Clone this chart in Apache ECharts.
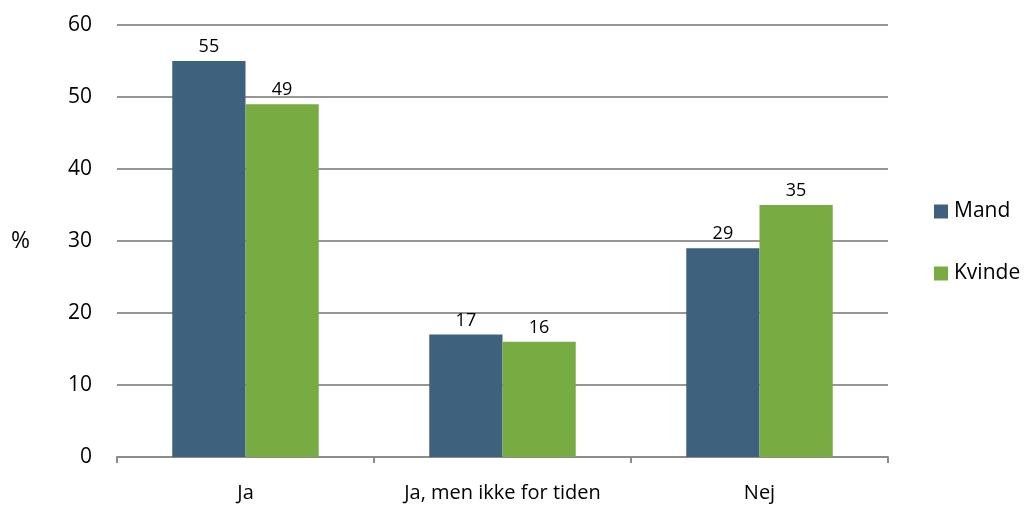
<!DOCTYPE html>
<html><head><meta charset="utf-8">
<script src="https://cdn.jsdelivr.net/npm/echarts@6/dist/echarts.min.js"></script>
<style>html,body{margin:0;padding:0;background:#fff}#c{width:1025px;height:507px}</style>
</head><body><div id="c"></div>
<script>
const categories = ['Ja', 'Ja, men ikke for tiden', 'Nej'];
const mand = [55, 17, 29];
const kvinde = [49, 16, 35];
const seriesNames = ['Mand', 'Kvinde'];
const yTicks = {min: 0, max: 60, interval: 10};
const font = 'Open Sans';
const chart = echarts.init(document.getElementById('c'));
chart.setOption({
  animation: false,
  textStyle: {fontFamily: font},
  grid: {left: 117, right: 137, top: 25, bottom: 50, containLabel: false},
  legend: {
    orient: 'vertical', left: 929, top: 196, itemGap: 41,
    itemWidth: 14, itemHeight: 14, icon: 'rect',
    textStyle: {fontSize: 21, color: '#000', fontFamily: font, padding: [0,0,0,1]},
    data: seriesNames
  },
  graphic: [{type: 'text', left: 11, top: 230, style: {text: '%', fontSize: 23, fill: '#000', fontFamily: font}}],
  xAxis: {
    type: 'category', data: categories,
    axisLine: {lineStyle: {color: '#8c8c8c', width: 2}},
    axisTick: {show: true, length: 6, lineStyle: {color: '#8c8c8c', width: 2}},
    axisLabel: {fontSize: 20, color: '#000', margin: 26, fontFamily: font}
  },
  yAxis: {
    type: 'value', min: yTicks.min, max: yTicks.max, interval: yTicks.interval,
    axisLine: {show: false}, axisTick: {show: false},
    splitLine: {lineStyle: {color: '#969696', width: 2}},
    axisLabel: {fontSize: 21, color: '#000', margin: 25, fontFamily: font}
  },
  series: [
    {name: seriesNames[0], type: 'bar', data: mand, barGap: '0%', barCategoryGap: '43%',
     itemStyle: {color: '#3e627e'},
     label: {show: true, position: 'top', fontSize: 18, color: '#000', distance: 5, fontFamily: font}},
    {name: seriesNames[1], type: 'bar', data: kvinde, barGap: '0%', barCategoryGap: '43%',
     itemStyle: {color: '#78ac42'},
     label: {show: true, position: 'top', fontSize: 18, color: '#000', distance: 5, fontFamily: font}}
  ]
});
</script></body></html>
